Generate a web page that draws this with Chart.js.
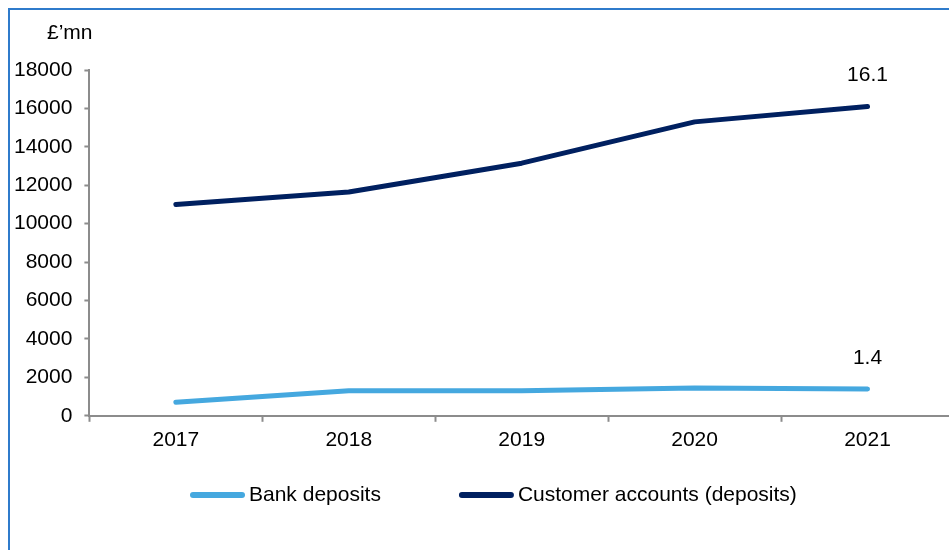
<!DOCTYPE html>
<html>
<head>
<meta charset="utf-8">
<script src="https://cdn.jsdelivr.net/npm/chart.js@4/dist/chart.umd.min.js"></script>
<style>
  html, body { margin: 0; overflow: hidden; background: #fff; font-family: "Liberation Sans", Arial, sans-serif; }
  #frame { position: absolute; left: 8px; top: 8px; width: 2000px; height: 1000px; border: 2px solid #2F7BCB; }
  #wrap { position: absolute; left: 0; top: 0; width: 960px; height: 550px; }
  #unit { position: absolute; left: 47px; top: 20px; font-size: 21px; color: #000; }
</style>
</head>
<body>
<div id="frame"></div>
<div id="wrap"><canvas id="deposits-chart"></canvas></div>
<div id="unit">£’mn</div>
<script>
var years = ["2017", "2018", "2019", "2020", "2021"];
var bankDeposits = [700, 1300, 1300, 1450, 1400];
var customerAccounts = [11000, 11650, 13150, 15300, 16100];
var yTicks = [0, 2000, 4000, 6000, 8000, 10000, 12000, 14000, 16000, 18000];

Chart.defaults.font.family = '"Liberation Sans", Arial, sans-serif';
Chart.defaults.font.size = 21;
Chart.defaults.color = '#000';

var FONT = '21px "Liberation Sans", Arial, sans-serif';

// write the last value of each line above it, in billions
var endLabels = {
  id: 'endLabels',
  afterDatasetsDraw: function(chart) {
    var ctx = chart.ctx;
    ctx.save();
    ctx.font = FONT;
    ctx.fillStyle = '#000';
    ctx.textAlign = 'center';
    ctx.textBaseline = 'middle';
    chart.data.datasets.forEach(function(ds, i) {
      var pts = chart.getDatasetMeta(i).data;
      var last = pts[pts.length - 1];
      var v = ds.data[ds.data.length - 1];
      ctx.fillText((v / 1000).toFixed(1), last.x, last.y - 31);
    });
    ctx.restore();
  }
};

// legend row under the axis: line sample, then the series name
var lineLegend = {
  id: 'lineLegend',
  afterDraw: function(chart) {
    var ctx = chart.ctx;
    var x = 190, y = 495, sample = 55, gapText = 4, gapItem = 78;
    ctx.save();
    ctx.font = FONT;
    ctx.textBaseline = 'middle';
    ctx.textAlign = 'left';
    chart.data.datasets.forEach(function(ds) {
      ctx.strokeStyle = ds.borderColor;
      ctx.lineWidth = 6;
      ctx.lineCap = 'round';
      ctx.beginPath();
      ctx.moveTo(x + 3, y);
      ctx.lineTo(x + sample - 3, y);
      ctx.stroke();
      x += sample + gapText;
      ctx.fillStyle = '#000';
      ctx.fillText(ds.label, x, y);
      x += ctx.measureText(ds.label).width + gapItem;
    });
    ctx.restore();
  }
};

new Chart(document.getElementById("deposits-chart"), {
  type: 'line',
  data: {
    labels: years,
    datasets: [
      {
        label: "Bank deposits",
        data: bankDeposits,
        borderColor: "#45A8DF",
        backgroundColor: "#45A8DF",
        borderWidth: 5,
        borderCapStyle: 'round',
        borderJoinStyle: 'round',
        pointRadius: 0,
        tension: 0
      },
      {
        label: "Customer accounts (deposits)",
        data: customerAccounts,
        borderColor: "#002060",
        backgroundColor: "#002060",
        borderWidth: 5,
        borderCapStyle: 'round',
        borderJoinStyle: 'round',
        pointRadius: 0,
        tension: 0
      }
    ]
  },
  options: {
    responsive: true,
    maintainAspectRatio: false,
    animation: false,
    layout: { padding: { left: 2, right: 6, top: 70, bottom: 91 } },
    plugins: {
      tooltip: { enabled: false },
      legend: { display: false }
    },
    scales: {
      x: {
        offset: true,
        border: { color: '#8C8C8C', width: 2 },
        grid: { drawOnChartArea: false, offset: true, tickLength: 6, color: '#8C8C8C', tickWidth: 2 },
        ticks: { padding: 6 }
      },
      y: {
        min: 0,
        max: 18000,
        afterBuildTicks: function(axis) {
          axis.ticks = yTicks.map(function(v) { return { value: v }; });
        },
        border: { color: '#8C8C8C', width: 2 },
        grid: { drawOnChartArea: false, tickLength: 5, color: '#8C8C8C', tickWidth: 2 },
        ticks: {
          padding: 12,
          callback: function(v) { return String(v); }
        }
      }
    }
  },
  plugins: [endLabels, lineLegend]
});
</script>
</body>
</html>
